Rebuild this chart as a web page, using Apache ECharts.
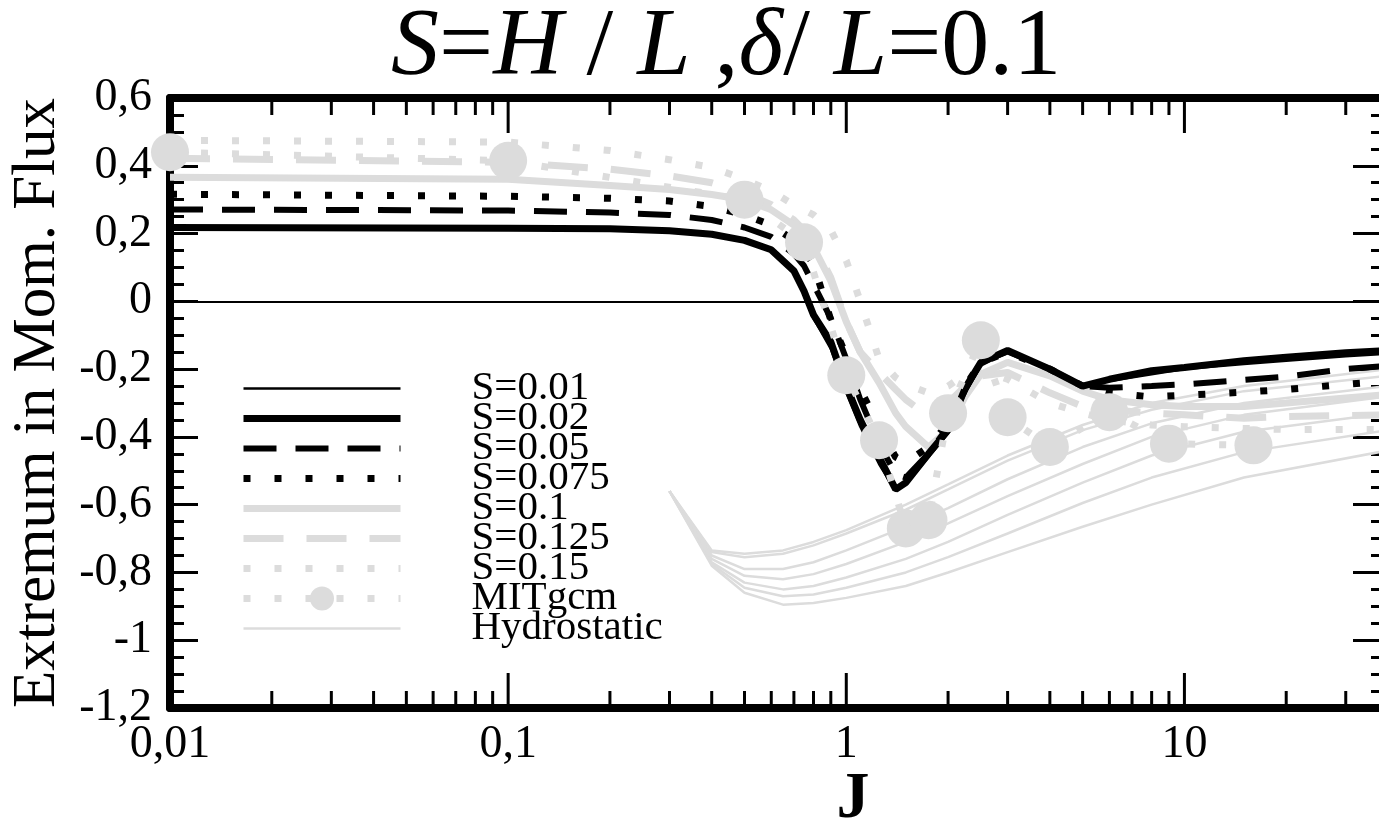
<!DOCTYPE html>
<html>
<head>
<meta charset="utf-8">
<script src="https://cdn.jsdelivr.net/npm/echarts@6/dist/echarts.min.js"></script>
<style>
html,body{margin:0;padding:0;background:#fff}
#chart{width:1379px;height:831px}
</style>
</head>
<body>
<div id="chart"></div>
<script>
// J values shared by the S curves
var jGrid = [0.01, 0.1, 0.2, 0.3, 0.4, 0.5, 0.6, 0.7, 0.75, 0.8, 0.9, 1, 1.1, 1.25, 1.4, 1.5, 1.75, 2, 2.25, 2.5, 3, 4, 5, 6, 8, 10, 15, 20, 30, 40];
var s001 = [0.215, 0.213, 0.211, 0.205, 0.195, 0.177, 0.148, 0.085, 0.02, -0.05, -0.14, -0.27, -0.37, -0.48, -0.56, -0.54, -0.46, -0.39, -0.27, -0.19, -0.15, -0.2, -0.25, -0.235, -0.215, -0.2, -0.185, -0.175, -0.162, -0.155];
var s002 = [0.218, 0.216, 0.214, 0.208, 0.198, 0.18, 0.152, 0.09, 0.03, -0.04, -0.12, -0.25, -0.35, -0.46, -0.555, -0.535, -0.45, -0.38, -0.255, -0.18, -0.145, -0.2, -0.25, -0.23, -0.205, -0.195, -0.175, -0.165, -0.152, -0.145];
var s005 = [0.271, 0.268, 0.262, 0.255, 0.24, 0.218, 0.19, 0.14, 0.105, 0.05, -0.05, -0.17, -0.29, -0.42, -0.51, -0.52, -0.45, -0.37, -0.26, -0.18, -0.148, -0.2, -0.25, -0.255, -0.25, -0.245, -0.232, -0.222, -0.2, -0.19];
var s0075 = [0.316, 0.31, 0.304, 0.296, 0.28, 0.255, 0.225, 0.18, 0.15, 0.11, -0.055, -0.16, -0.26, -0.37, -0.46, -0.475, -0.43, -0.36, -0.25, -0.18, -0.15, -0.2, -0.25, -0.27, -0.282, -0.277, -0.268, -0.26, -0.245, -0.235];
var s01 = [0.366, 0.36, 0.342, 0.33, 0.315, 0.3, 0.27, 0.225, 0.2, 0.16, 0.06, -0.06, -0.15, -0.24, -0.33, -0.37, -0.43, -0.38, -0.28, -0.215, -0.18, -0.22, -0.265, -0.29, -0.305, -0.31, -0.31, -0.3, -0.285, -0.275];
var s0125 = [0.422, 0.41, 0.39, 0.37, 0.35, 0.32, 0.285, 0.24, 0.21, 0.17, 0.07, -0.06, -0.15, -0.21, -0.26, -0.29, -0.34, -0.3, -0.25, -0.22, -0.21, -0.27, -0.31, -0.32, -0.33, -0.335, -0.345, -0.34, -0.337, -0.335];
var s015 = [0.475, 0.47, 0.445, 0.418, 0.395, 0.36, 0.325, 0.285, 0.27, 0.255, 0.21, 0.12, 0.0, -0.17, -0.225, -0.245, -0.27, -0.25, -0.215, -0.2, -0.23, -0.3, -0.33, -0.35, -0.365, -0.37, -0.375, -0.378, -0.378, -0.378];

// MITgcm points
var mitJ = [0.01, 0.1, 0.5, 0.75, 1, 1.25, 1.5, 1.75, 2, 2.5, 3, 4, 6, 9, 16];
var mitV = [0.44, 0.415, 0.3, 0.174, -0.218, -0.41, -0.67, -0.646, -0.33, -0.115, -0.342, -0.43, -0.327, -0.42, -0.425];

// hydrostatic curves
var hydJ = [0.3, 0.4, 0.5, 0.65, 0.8, 1, 1.5, 2, 3, 5, 8, 15, 40];
var hyd1 = [-0.56, -0.735, -0.745, -0.735, -0.71, -0.675, -0.6, -0.54, -0.455, -0.365, -0.3, -0.25, -0.2];
var hyd2 = [-0.56, -0.74, -0.755, -0.745, -0.72, -0.685, -0.615, -0.555, -0.47, -0.38, -0.32, -0.265, -0.22];
var hyd3 = [-0.56, -0.75, -0.79, -0.79, -0.77, -0.735, -0.665, -0.61, -0.525, -0.43, -0.36, -0.3, -0.25];
var hyd4 = [-0.56, -0.76, -0.81, -0.82, -0.805, -0.775, -0.71, -0.655, -0.575, -0.48, -0.4, -0.335, -0.28];
var hyd5 = [-0.56, -0.77, -0.83, -0.85, -0.84, -0.815, -0.76, -0.71, -0.63, -0.535, -0.455, -0.385, -0.33];
var hyd6 = [-0.56, -0.775, -0.845, -0.87, -0.865, -0.845, -0.8, -0.755, -0.685, -0.595, -0.52, -0.445, -0.38];
var hyd7 = [-0.56, -0.78, -0.86, -0.895, -0.89, -0.875, -0.84, -0.8, -0.74, -0.665, -0.6, -0.52, -0.44];

// ticks of the log axis
var majorJ = [0.1, 1, 10];
var minorJ = [0.02, 0.03, 0.04, 0.05, 0.06, 0.07, 0.08, 0.09, 0.2, 0.3, 0.4, 0.5, 0.6, 0.7, 0.8, 0.9, 2, 3, 4, 5, 6, 7, 8, 9, 20, 30];
var decadeLabels = [0.01, 0.1, 1, 10];

var legendNames = ['S=0.01', 'S=0.02', 'S=0.05', 'S=0.075', 'S=0.1', 'S=0.125', 'S=0.15', 'MITgcm', 'Hydrostatic'];

var FONT = 'Liberation Serif';
var GREY = '#dcdcdc';

function pairs(xs, ys) {
    var out = [];
    for (var i = 0; i < xs.length; i++) {
        out.push([xs[i], ys[i]]);
    }
    return out;
}

function curve(name, ys, color, width, dash, z) {
    return {
        name: name,
        type: 'line',
        data: pairs(jGrid, ys),
        symbol: 'none',
        z: z,
        lineStyle: {color: color, width: width, type: dash, cap: 'butt'},
        itemStyle: {color: color}
    };
}

// short vertical marks at given J on the bottom and top frame
function tickSeries(js, len) {
    return {
        type: 'custom',
        z: 5,
        silent: true,
        clip: false,
        data: js.map(function (j) { return [j, -1.2]; }),
        renderItem: function (params, api) {
            var b = api.coord([api.value(0), -1.2]);
            var t = api.coord([api.value(0), 0.6]);
            return {
                type: 'group',
                children: [
                    {type: 'line', shape: {x1: b[0], y1: b[1], x2: b[0], y2: b[1] - len}, style: {stroke: '#000', lineWidth: 3}},
                    {type: 'line', shape: {x1: t[0], y1: t[1], x2: t[0], y2: t[1] + len}, style: {stroke: '#000', lineWidth: 3}}
                ]
            };
        }
    };
}

var series = [];
[hyd1, hyd2, hyd3, hyd4, hyd5, hyd6, hyd7].forEach(function (h) {
    series.push({
        name: 'Hydrostatic',
        type: 'line',
        data: pairs(hydJ, h),
        symbol: 'none',
        z: 1,
        lineStyle: {color: GREY, width: 2.5},
        itemStyle: {color: GREY}
    });
});
series.push(curve('S=0.15', s015, GREY, 7, [7, 24], 2));
series.push(curve('S=0.125', s0125, GREY, 7, [40, 23], 2));
series.push(curve('S=0.1', s01, GREY, 7, 'solid', 2));
series.push(curve('S=0.075', s0075, '#000', 7, [7, 24], 3));
series.push(curve('S=0.05', s005, '#000', 6, [33, 19], 3));
series.push(curve('S=0.02', s002, '#000', 7, 'solid', 3));
var thin = curve('S=0.01', s001, '#000', 2.5, 'solid', 3);
thin.markLine = {
    silent: true,
    symbol: 'none',
    label: {show: false},
    lineStyle: {color: '#000', width: 2, type: 'solid'},
    data: [{yAxis: 0}]
};
series.push(thin);
series.push({
    name: 'MITgcm',
    type: 'line',
    data: pairs(mitJ, mitV),
    symbol: 'circle',
    symbolSize: 38,
    z: 4,
    lineStyle: {color: GREY, width: 7, type: [7, 24], cap: 'butt'},
    itemStyle: {color: GREY}
});
series.push(tickSeries(minorJ, 17));
series.push(tickSeries(majorJ, 35));

function decimalComma(v) {
    return String(Math.round(v * 100) / 100).replace('.', ',');
}

var legendData = legendNames.map(function (n) {
    return n === 'MITgcm' ? {name: n} : {name: n, itemStyle: {opacity: 0}};
});

var myChart = echarts.init(document.getElementById('chart'));
var option = {
    animation: false,
    backgroundColor: '#fff',
    title: [
        {
            text: '{i|S}{n|=}{i|H}{n| / }{i|L}{n| ,}{i|δ}{n|/ }{i|L}{n|=0.1}',
            left: 386,
            top: -4,
            textStyle: {
                fontWeight: 'normal',
                rich: {
                    i: {fontFamily: FONT, fontStyle: 'italic', fontWeight: 'normal', fontSize: 96, color: '#000'},
                    n: {fontFamily: FONT, fontWeight: 'normal', fontSize: 96, color: '#000'}
                }
            }
        },
        {
            text: 'J',
            left: 848,
            top: 762,
            textAlign: 'center',
            textStyle: {fontFamily: FONT, fontSize: 66, fontWeight: 'bold', color: '#000'}
        }
    ],
    grid: {left: 170, top: 98, width: 1218, height: 610, containLabel: false, outerBoundsMode: 'none'},
    legend: {
        orient: 'vertical',
        left: 240,
        top: 368,
        padding: 0,
        itemWidth: 157,
        itemHeight: 30,
        itemGap: -11,
        selectedMode: false,
        data: legendData,
        lineStyle: {width: 'inherit', type: 'inherit'},
        textStyle: {fontFamily: FONT, fontSize: 41, color: '#000', lineHeight: 30, padding: [0, 0, 0, 66]}
    },
    xAxis: [
        {
            type: 'log',
            logBase: 10,
            min: 0.01,
            max: 40,
            position: 'bottom',
            axisLine: {onZero: false, lineStyle: {color: '#000', width: 8}},
            axisTick: {show: false},
            axisLabel: {
                fontFamily: FONT, fontSize: 46, color: '#000', margin: 14,
                formatter: function (v) {
                    for (var i = 0; i < decadeLabels.length; i++) {
                        if (Math.abs(v - decadeLabels[i]) < 1e-9) return decimalComma(v);
                    }
                    return '';
                }
            },
            splitLine: {show: false}
        },
        {
            type: 'log',
            logBase: 10,
            min: 0.01,
            max: 40,
            position: 'top',
            axisLine: {onZero: false, lineStyle: {color: '#000', width: 8}},
            axisTick: {show: false},
            axisLabel: {show: false},
            splitLine: {show: false}
        }
    ],
    yAxis: [
        {
            type: 'value',
            min: -1.2,
            max: 0.6,
            interval: 0.2,
            position: 'left',
            name: 'Extremum in Mom. Flux',
            nameLocation: 'middle',
            nameGap: 92,
            nameTextStyle: {fontFamily: FONT, fontSize: 61, color: '#000'},
            axisLine: {onZero: false, lineStyle: {color: '#000', width: 8}},
            axisTick: {inside: true, length: 28, lineStyle: {color: '#000', width: 3}},
            minorTick: {show: true, splitNumber: 4, length: 14, lineStyle: {color: '#000', width: 3}},
            axisLabel: {fontFamily: FONT, fontSize: 46, color: '#000', margin: 18, formatter: decimalComma},
            splitLine: {show: false}
        },
        {
            type: 'value',
            min: -1.2,
            max: 0.6,
            interval: 0.2,
            position: 'right',
            axisLine: {onZero: false, lineStyle: {color: '#000', width: 8}},
            axisTick: {inside: true, length: 35, lineStyle: {color: '#000', width: 3}},
            minorTick: {show: true, splitNumber: 4, length: 17, lineStyle: {color: '#000', width: 3}},
            axisLabel: {show: false},
            splitLine: {show: false}
        }
    ],
    series: series
};
myChart.setOption(option);
</script>
</body>
</html>
